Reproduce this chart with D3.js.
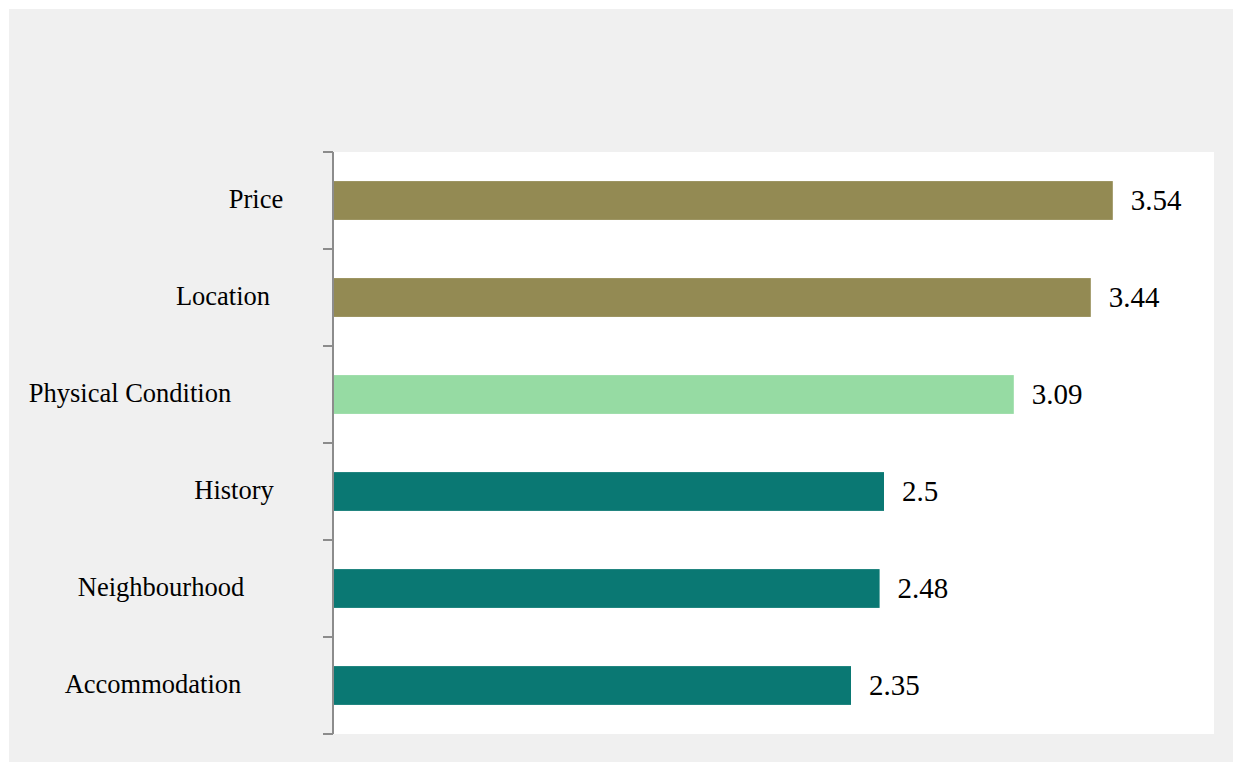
<!DOCTYPE html>
<html>
<head>
<meta charset="utf-8">
<script src="https://cdn.jsdelivr.net/npm/d3@7"></script>
<style>
  body { margin: 0; background: #fff; }
  text { font-family: "Liberation Serif", "Times New Roman", serif; fill: #000; }
</style>
</head>
<body>
<div id="chart"></div>
<script>
(function () {

  // Data
  const categories = ["Price", "Location", "Physical Condition", "History", "Neighbourhood", "Accommodation"]
  const values = [3.54, 3.44, 3.09, 2.5, 2.48, 2.35]
  const groups = ["top", "top", "mid", "low", "low", "low"]

  const W = 1233, H = 762
  const plot = { left: 334, right: 1214, top: 152, bottom: 734 }

  const colorScale = d3.scaleOrdinal()
    .domain(["top", "mid", "low"])
    .range(["#938a53", "#96dba3", "#0a7873"])

  const xScale = d3.scaleLinear()
    .domain([0, 4])
    .range([plot.left, plot.right])

  const yScale = d3.scaleBand()
    .domain(categories)
    .range([plot.top, plot.bottom])
    .paddingInner(0.6)
    .paddingOuter(0.3)

  // label nudges so they sit like the original
  const labelCenter = [256, 223, 130, 234, 161, 153]

  const svg = d3.select("#chart").append("svg")
    .attr("width", W)
    .attr("height", H)

  svg.append("rect")
    .attr("x", 9).attr("y", 9)
    .attr("width", W - 9).attr("height", H - 9)
    .attr("fill", "#f0f0f0")

  svg.append("rect")
    .attr("x", plot.left).attr("y", plot.top)
    .attr("width", plot.right - plot.left).attr("height", plot.bottom - plot.top)
    .attr("fill", "#ffffff")

  const data = categories.map((c, i) => ({ name: c, value: values[i], group: groups[i], i: i }))

  // Bars
  svg.selectAll("rect.bar")
    .data(data)
    .join("rect")
    .attr("class", "bar")
    .attr("x", xScale(0))
    .attr("y", d => yScale(d.name))
    .attr("width", d => xScale(d.value) - xScale(0))
    .attr("height", yScale.bandwidth())
    .attr("fill", d => colorScale(d.group))

  // Value labels
  svg.selectAll("text.val")
    .data(data)
    .join("text")
    .attr("class", "val")
    .attr("x", d => xScale(d.value) + 18)
    .attr("y", d => yScale(d.name) + yScale.bandwidth() / 2)
    .attr("dy", "0.33em")
    .attr("font-size", 29)
    .text(d => d.value)

  // Category labels
  svg.selectAll("text.cat")
    .data(data)
    .join("text")
    .attr("class", "cat")
    .attr("x", d => labelCenter[d.i])
    .attr("y", d => yScale(d.name) + yScale.bandwidth() / 2)
    .attr("dy", "0.3em")
    .attr("text-anchor", "middle")
    .attr("font-size", 26.5)
    .text(d => d.name)

  // Axis: line with ticks at band boundaries
  const bounds = categories.map(c => yScale(c) - yScale.step() * yScale.paddingInner() / 2)
  bounds[0] = plot.top
  bounds.push(plot.bottom)
  const axis = svg.append("g").attr("stroke", "#8c8c8c").attr("stroke-width", 2)
  axis.append("line")
    .attr("x1", plot.left - 1).attr("x2", plot.left - 1)
    .attr("y1", plot.top).attr("y2", plot.bottom)
  axis.selectAll("line.tick")
    .data(bounds)
    .join("line")
    .attr("class", "tick")
    .attr("x1", plot.left - 11).attr("x2", plot.left - 1)
    .attr("y1", d => d).attr("y2", d => d)

})();
</script>
</body>
</html>
